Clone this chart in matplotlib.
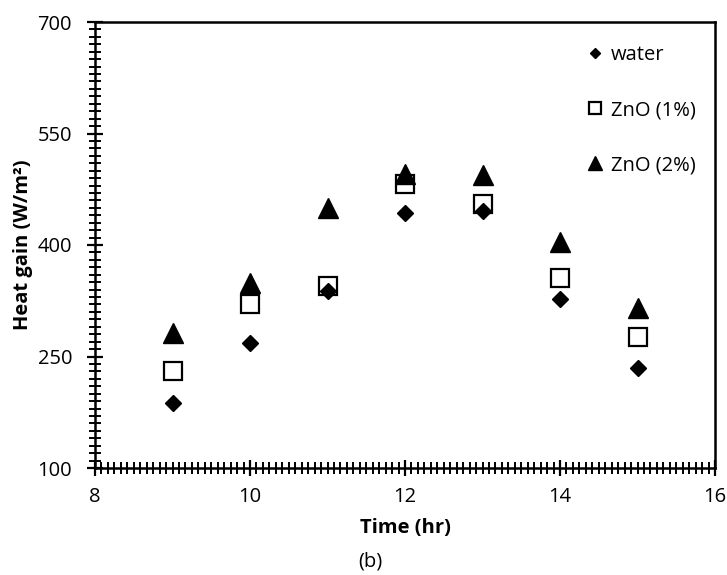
import matplotlib
matplotlib.use("Agg")
import matplotlib.pyplot as plt
from matplotlib.ticker import MultipleLocator

plt.rcParams['font.family'] = ['Open Sans', 'DejaVu Sans']

time_hr = [9, 10, 11, 12, 13, 14, 15]
water = [187, 268, 338, 443, 446, 327, 234]
zno_1 = [230, 321, 345, 482, 455, 356, 276]
zno_2 = [281, 349, 450, 495, 494, 404, 315]

series_labels = ["water", "ZnO (1%)", "ZnO (2%)"]
x_ticks = [8, 10, 12, 14, 16]
y_ticks = [100, 250, 400, 550, 700]

FS = 14.5
fig = plt.figure(figsize=(7.27, 5.75), dpi=100)
ax = fig.add_axes([95/727, 1 - 468/575, 620/727, 446/575])

ax.plot(time_hr, water, linestyle='none', marker='D', ms=8.6,
        color='black', mec='black', label=series_labels[0], zorder=4)
ax.plot(time_hr, zno_1, linestyle='none', marker='s', ms=12.5,
        mfc='white', mec='black', mew=1.6, label=series_labels[1], zorder=2)
ax.plot(time_hr, zno_2, linestyle='none', marker='^', ms=14.5,
        color='black', mec='black', label=series_labels[2], zorder=3)

ax.set_xlim(8, 16)
ax.set_ylim(100, 700)
ax.set_xticks(x_ticks)
ax.set_yticks(y_ticks)
ax.xaxis.set_minor_locator(MultipleLocator(1/12))
ax.yaxis.set_minor_locator(MultipleLocator(10))

for s in ax.spines.values():
    s.set_linewidth(1.8)

ax.tick_params(which='major', direction='inout', length=11, width=1.6,
               labelsize=FS, colors='black')
ax.tick_params(axis='y', which='major', pad=11)
ax.tick_params(axis='x', which='major', pad=8)
ax.tick_params(which='minor', direction='inout', length=8.5, width=1.4)
ax.tick_params(top=False, right=False, which='both')

ax.set_xlabel("Time (hr)", fontsize=FS, fontweight='bold')
ax.set_ylabel("Heat gain (W/m²)", fontsize=FS, fontweight='bold')
ax.xaxis.set_label_coords((405-95)/620, (468-528)/446)
ax.xaxis.label.set_va('center')
ax.yaxis.set_label_coords((23-95)/620, 0.5)
ax.yaxis.label.set_va('center')

leg = ax.legend(loc='upper right', bbox_to_anchor=(1.0 - 19/620, 1.0 - 23/446),
                frameon=False, fontsize=FS, markerscale=0.65,
                handlelength=1.0, handletextpad=0.3, labelspacing=1.75,
                borderaxespad=0, borderpad=0)

fig.text(370/727, 1 - 562/575, "(b)", fontsize=FS, ha='center', va='center')

fig.savefig("out.png", dpi=100)
